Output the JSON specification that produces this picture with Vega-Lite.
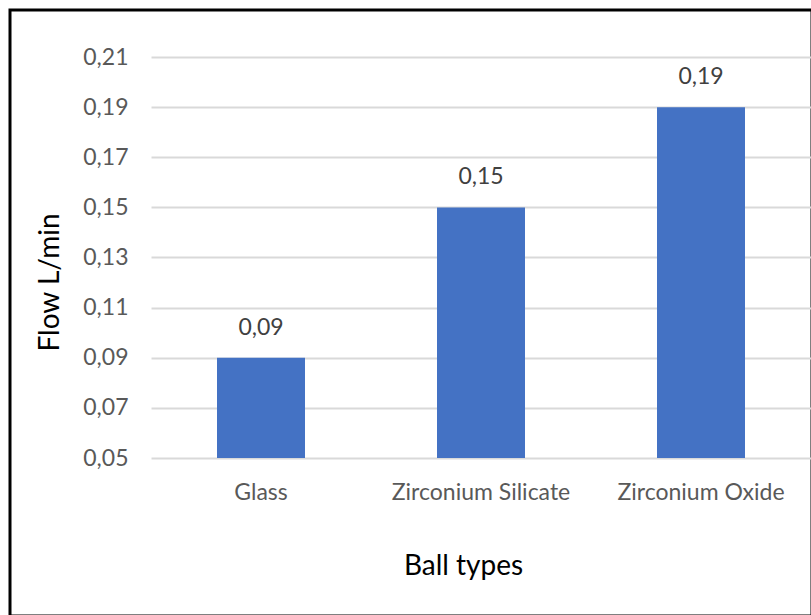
{
  "$schema": "https://vega.github.io/schema/vega-lite/v6.json",
  "width": 802,
  "height": 606,
  "autosize": {"type": "none"},
  "padding": {"left": 10, "top": 10, "right": 0, "bottom": 0},
  "background": "white",
  "config": {
    "locale": {"number": {"decimal": ",", "thousands": ".", "grouping": [3], "currency": ["", " €"]}},
    "view": {"stroke": "black", "strokeWidth": 3},
    "font": "Lato"
  },
  "data": {
    "values": [
      {"ball": "Glass", "flow": 0.09},
      {"ball": "Zirconium Silicate", "flow": 0.15},
      {"ball": "Zirconium Oxide", "flow": 0.19}
    ]
  },
  "encoding": {
    "x": {
      "field": "ball",
      "type": "nominal",
      "sort": null,
      "scale": {"range": [141, 801], "paddingInner": 0.6, "paddingOuter": 0.3},
      "axis": {
        "title": "Ball types",
        "orient": "bottom",
        "offset": -158,
        "domain": false,
        "ticks": false,
        "grid": false,
        "labelAngle": 0,
        "labelPadding": 23,
        "labelFontSize": 23,
        "labelColor": "#595959",
        "titleFontSize": 28,
        "titleFontWeight": "normal",
        "titleColor": "#000000",
        "titleX": 453,
        "titleY": 108,
        "titleBaseline": "middle"
      }
    },
    "y": {
      "field": "flow",
      "type": "quantitative",
      "scale": {"domain": [0.05, 0.21], "range": [448, 47], "nice": false, "zero": false},
      "axis": {
        "title": "Flow L/min",
        "offset": -141,
        "values": [0.05, 0.07, 0.09, 0.11, 0.13, 0.15, 0.17, 0.19, 0.21],
        "format": ".2f",
        "domain": false,
        "ticks": false,
        "grid": true,
        "gridColor": "#d9d9d9",
        "gridWidth": 2,
        "labelPadding": 23,
        "labelFontSize": 23,
        "labelColor": "#595959",
        "titleFontSize": 28,
        "titleFontWeight": "normal",
        "titleColor": "#000000",
        "titleX": -101,
        "titleY": 272,
        "titleBaseline": "middle",
        "titleLetterSpacing": 4.5
      }
    }
  },
  "layer": [
    {
      "mark": {"type": "bar", "color": "#4472C4"},
      "encoding": {"y2": {"datum": 0.05}}
    },
    {
      "mark": {"type": "text", "baseline": "bottom", "dy": -18, "fontSize": 23, "color": "#404040"},
      "encoding": {"text": {"field": "flow", "type": "quantitative", "format": ".2f"}}
    }
  ]
}
